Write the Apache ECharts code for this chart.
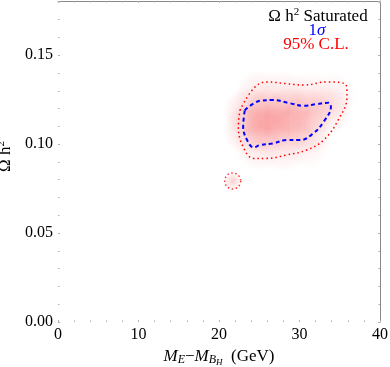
<!DOCTYPE html>
<html>
<head>
<meta charset="UTF-8">
<script src="https://cdn.jsdelivr.net/npm/echarts@6/dist/echarts.min.js"></script>
<style>
html, body { margin: 0; padding: 0; background: #fff; }
#chart { width: 390px; height: 367px; }
</style>
</head>
<body>
<div id="chart"></div>
<script>
// axis ticks
var xTicks = [0, 10, 20, 30, 40];
var yTicks = [0, 0.05, 0.10, 0.15];
var yTop = 0.1805;

// density samples: [x, y, strength]
var densityPts = [
  [25.0, 0.128, 0.20], [28.0, 0.128, 0.18], [31.0, 0.127, 0.16], [34.0, 0.127, 0.14],
  [23.6, 0.118, 0.32], [26.0, 0.117, 0.45], [28.6, 0.118, 0.40], [31.0, 0.118, 0.32], [33.5, 0.119, 0.22],
  [23.6, 0.108, 0.32], [26.0, 0.109, 0.45], [28.6, 0.109, 0.36], [31.0, 0.108, 0.24],
  [25.0, 0.099, 0.20], [28.0, 0.098, 0.18], [31.0, 0.100, 0.12]
];

// 1 sigma contour
var sigma1 = [
  [23.2, 0.1190], [25.1, 0.1244], [26.7, 0.1248], [28.8, 0.1230], [30.5, 0.1216],
  [32.1, 0.1225], [33.6, 0.1233], [33.9, 0.1210], [33.0, 0.1126], [31.7, 0.1060],
  [30.1, 0.1023], [28.4, 0.1023], [26.7, 0.1004], [25.1, 0.0995], [24.3, 0.0982],
  [23.6, 0.1013], [23.0, 0.1098], [23.2, 0.1190]
];

// 95% C.L. contour
var cl95 = [
  [22.6, 0.1190], [24.3, 0.1313], [25.9, 0.1350], [28.4, 0.1340], [30.5, 0.1332],
  [33.4, 0.1350], [35.8, 0.1332], [35.9, 0.1266], [34.8, 0.1135], [33.0, 0.1023],
  [30.9, 0.0967], [28.4, 0.0939], [25.9, 0.0920], [24.3, 0.0920], [23.0, 0.0985],
  [22.4, 0.1098], [22.6, 0.1190]
];

// small isolated island
var island = [[21.7, 0.0793]];

var serif = 'Liberation Serif';

function blob(a) {
  return new echarts.graphic.RadialGradient(0.5, 0.5, 0.5, [
    { offset: 0, color: 'rgba(245,85,85,' + a + ')' },
    { offset: 1, color: 'rgba(245,85,85,0)' }
  ]);
}

var chart = echarts.init(document.getElementById('chart'), null, { renderer: 'canvas' });

var tickStyle = { color: '#b0b0b0', width: 1 };

var option = {
  animation: false,
  backgroundColor: '#fff',
  grid: { left: 58, right: 10, top: 1, bottom: 45, containLabel: false, outerBoundsMode: 'none' },
  xAxis: [{
    type: 'value',
    min: xTicks[0], max: xTicks[xTicks.length - 1],
    interval: xTicks[1] - xTicks[0],
    axisLine: { show: false, onZero: false },
    axisTick: { show: true, inside: true, length: 2, lineStyle: tickStyle },
    minorTick: { show: true, splitNumber: 5, length: 1.5, lineStyle: tickStyle },
    splitLine: { show: false },
    axisLabel: { margin: 5, color: '#000', fontFamily: serif, fontSize: 16 },
    name: '{i|M}{s|E}{n|\u2212}{i|M}{s|B}{ss|H}{n|  (GeV)}',
    nameLocation: 'middle',
    nameGap: 22,
    nameTextStyle: {
      rich: {
        i: { fontFamily: serif, fontStyle: 'italic', fontSize: 17, color: '#000' },
        n: { fontFamily: serif, fontSize: 17, color: '#000' },
        s: { fontFamily: serif, fontStyle: 'italic', fontSize: 12, color: '#000', padding: [7, 0, 0, 0] },
        ss: { fontFamily: serif, fontStyle: 'italic', fontSize: 9, color: '#000', padding: [13, 0, 0, 0] }
      }
    }
  }, {
    type: 'value', position: 'top',
    min: xTicks[0], max: xTicks[xTicks.length - 1],
    interval: xTicks[1] - xTicks[0],
    axisLine: { show: true, onZero: false, lineStyle: { color: '#8a8a8a', width: 1 } },
    axisTick: { show: true, inside: true, length: 2, lineStyle: tickStyle },
    minorTick: { show: true, splitNumber: 5, length: 1.5, lineStyle: tickStyle },
    splitLine: { show: false },
    axisLabel: { show: false }
  }],
  yAxis: [{
    type: 'value',
    min: yTicks[0], max: yTop,
    interval: yTicks[1] - yTicks[0],
    axisLine: { show: false, onZero: false },
    axisTick: { show: true, inside: true, length: 2, lineStyle: tickStyle },
    minorTick: { show: true, splitNumber: 5, length: 1.5, lineStyle: tickStyle },
    splitLine: { show: false },
    axisLabel: {
      margin: 5, color: '#000', fontFamily: serif, fontSize: 16,
      showMaxLabel: false,
      formatter: function (v) { return v.toFixed(2); }
    },
    name: '{n|\u03A9 h}{p|2}',
    nameLocation: 'middle',
    nameGap: 40,
    nameRotate: 90,
    nameTextStyle: {
      padding: [0, 0, 0, 10],
      rich: {
        n: { fontFamily: serif, fontSize: 17, color: '#000' },
        p: { fontFamily: serif, fontSize: 11, color: '#000', padding: [0, 0, 8, 0] }
      }
    }
  }, {
    type: 'value', position: 'right',
    min: yTicks[0], max: yTop,
    interval: yTicks[1] - yTicks[0],
    axisLine: { show: true, onZero: false, lineStyle: { color: '#8a8a8a', width: 1 } },
    axisTick: { show: true, inside: true, length: 2, lineStyle: tickStyle },
    minorTick: { show: true, splitNumber: 5, length: 1.5, lineStyle: tickStyle },
    splitLine: { show: false },
    axisLabel: { show: false }
  }],
  graphic: [{
    type: 'text', x: 318, y: 17,
    style: {
      text: '{n|\u03A9 h}{p|2}{n| Saturated}',
      align: 'center', textAlign: 'center', verticalAlign: 'middle', textVerticalAlign: 'middle',
      rich: {
        n: { fontFamily: serif, fontSize: 17, fill: '#000', color: '#000' },
        p: { fontFamily: serif, fontSize: 11, fill: '#000', color: '#000', padding: [0, 0, 9, 0] }
      }
    }
  }, {
    type: 'text', x: 317, y: 30.5,
    style: {
      text: '{n|1}{i|\u03C3}',
      align: 'center', textAlign: 'center', verticalAlign: 'middle', textVerticalAlign: 'middle',
      rich: {
        n: { fontFamily: serif, fontSize: 17, fill: '#0000ff', color: '#0000ff' },
        i: { fontFamily: serif, fontStyle: 'italic', fontSize: 17, fill: '#0000ff', color: '#0000ff' }
      }
    }
  }, {
    type: 'text', x: 316, y: 44.5,
    style: {
      text: '95% C.L.', fill: '#ff0000',
      font: '17px "Liberation Serif"',
      align: 'center', textAlign: 'center', verticalAlign: 'middle', textVerticalAlign: 'middle'
    }
  }],
  series: [{
    type: 'scatter',
    silent: true,
    symbolSize: 50,
    data: densityPts.map(function (p) {
      return { value: [p[0], p[1]], itemStyle: { color: blob(p[2]) } };
    }),
    z: 1
  }, {
    type: 'scatter',
    silent: true,
    symbolSize: 16,
    data: island,
    itemStyle: {
      color: blob(0.35),
      borderColor: '#ff0000',
      borderWidth: 1.5,
      borderType: [1.5, 2.5]
    },
    z: 3
  }, {
    type: 'line',
    silent: true,
    data: cl95,
    smooth: 0.4,
    symbol: 'none',
    lineStyle: { color: '#ff0000', width: 1.5, type: [1.5, 3] },
    z: 3
  }, {
    type: 'line',
    silent: true,
    data: sigma1,
    smooth: 0.4,
    symbol: 'none',
    lineStyle: { color: '#0000ff', width: 2, type: [4, 3] },
    z: 4
  }]
};

chart.setOption(option);
</script>
</body>
</html>
